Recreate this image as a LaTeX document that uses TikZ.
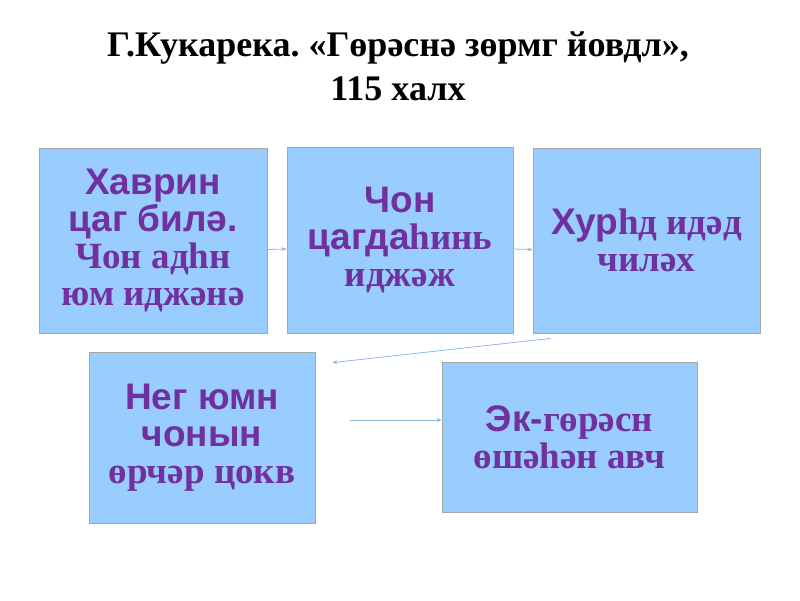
\documentclass[tikz,border=0pt]{standalone}
\usepackage{fontspec}
\setmainfont{Liberation Serif}
\setsansfont{Liberation Sans}
\frenchspacing
\usetikzlibrary{arrows.meta,calc,positioning}
\definecolor{BoxBlue}{HTML}{99CCFF}
\definecolor{TextPurple}{HTML}{7030A0}
\definecolor{ArrowBlue}{HTML}{8DB4E2}
\definecolor{EdgeGray}{HTML}{A6A6A6}

\tikzset{
    stepbox/.style={draw=EdgeGray, line width=0.8pt, fill=BoxBlue, text=TextPurple,
        align=center, inner sep=0pt, font=\bfseries\fontsize{37}{37}\selectfont},
    link/.style={->, ArrowBlue, line width=0.8pt}
}

\begin{document}
\begin{tikzpicture}[>={Stealth[length=5pt,width=4pt]}, x=1pt, y=-1pt]
    \useasboundingbox (0,0) rectangle (800,600);

    % Title
    \node[font=\bfseries\fontsize{36}{44}\selectfont, align=center] (title) at (398,66)
        {Г.Кукарека. «Гөрәснә зөрмг йовдл»,\\115 халх};

    % Top row
    \node[stepbox, minimum width=228pt, minimum height=185pt] (b1) at (153,240.5)
        {{\sffamily Хаврин}\\{\sffamily цаг билә.}\\Чон адһн\\юм иджәнә};
    \node[stepbox, minimum width=226pt, minimum height=186pt] (b2) at (400,240)
        {{\sffamily Чон}\\{\sffamily цагда}һинь\\иджәж};
    \node[stepbox, minimum width=227pt, minimum height=185pt] (b3) at (646.5,240.5)
        {{\sffamily Хур}һд идәд\\чиләх};

    % Bottom row
    \node[stepbox, minimum width=226pt, minimum height=171pt] (b4) at (202,437.5)
        {{\sffamily Нег юмн}\\{\sffamily чонын}\\өрчәр цокв};
    \node[stepbox, minimum width=255pt, minimum height=150pt] (b5) at (569.5,437)
        {{\sffamily Эк-}гөрәсн\\өшәһән авч};

    % Connectors
    \coordinate (d1) at ([shift={(18,5)}]b3.south west);
    \coordinate (d2) at ([shift={(17,11)}]b4.north east);
    \coordinate (h1) at ([shift={(35,-17.5)}]b4.east);
    \draw[link] ([yshift=-9pt]b1.east) -- ([yshift=-9pt]b2.west);
    \draw[link] ([yshift=-9pt]b2.east) -- ([yshift=-9pt]b3.west);
    \draw[link] (d1) -- (d2);
    \draw[link] (h1) -- ([yshift=17pt]b5.west);

\end{tikzpicture}
\end{document}
